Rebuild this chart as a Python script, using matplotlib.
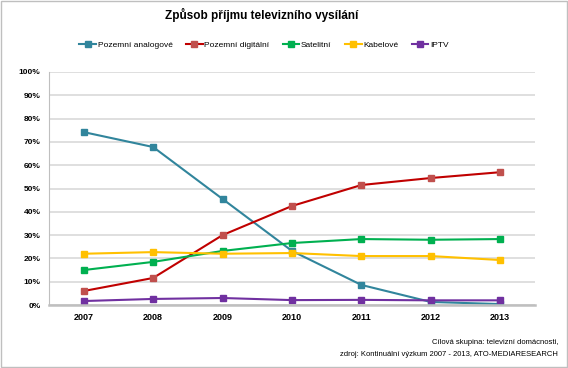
import matplotlib
matplotlib.use("Agg")
import matplotlib.pyplot as plt
import numpy as np

plt.rcParams['font.family'] = ['Liberation Sans', 'DejaVu Sans']

years = ["2007", "2008", "2009", "2010", "2011", "2012", "2013"]
analog = [74.2, 67.8, 45.5, 23.2, 8.6, 1.3, 0.4]
digital = [6.0, 11.6, 30.0, 42.5, 51.5, 54.5, 57.0]
satelit = [15.0, 18.5, 23.2, 26.6, 28.3, 28.0, 28.3]
kabel = [22.0, 22.7, 22.0, 22.3, 21.0, 21.0, 19.3]
iptv = [1.7, 2.6, 3.0, 2.1, 2.2, 2.0, 2.0]

series = [
    ("Pozemní analogové", analog, "#31859C", "#31859C"),
    ("Pozemní digitální", digital, "#C00000", "#C0504D"),
    ("Satelitní", satelit, "#00B050", "#00B050"),
    ("Kabelové", kabel, "#FFC000", "#FFC000"),
    ("IPTV", iptv, "#7030A0", "#7030A0"),
]

fig = plt.figure(figsize=(5.68, 3.68), dpi=100)
ax = fig.add_axes([49 / 568, 1 - 305 / 368, (535 - 49) / 568, (305 - 72) / 368])

x = np.arange(len(years))
for name, vals, c, mc in series:
    ax.plot(x, vals, color=c, lw=1.5, marker="s", markersize=4.5,
            markerfacecolor=mc, markeredgecolor=mc, label=name)

ax.set_xlim(-0.5, len(years) - 0.5)
ax.set_ylim(0, 100)
ax.set_yticks(np.arange(0, 101, 10))
ax.set_yticklabels([f"{v}%" for v in range(0, 101, 10)], fontsize=6, fontweight="bold")
ax.set_xticks(x)
ax.set_xticklabels(years, fontsize=6.5, fontweight="bold")
ax.tick_params(length=0, pad=6)
ax.grid(axis="y", color="#D9D9D9", lw=1.2)
ax.set_axisbelow(True)
for s in ["top", "right"]:
    ax.spines[s].set_visible(False)
ax.spines["left"].set_color("#BFBFBF")
ax.spines["bottom"].set_color("#BFBFBF")
ax.spines["bottom"].set_linewidth(1.8)

fig.text(262 / 568, 1 - 15 / 368, "Způsob příjmu televizního vysílání", ha="center", va="center",
         fontsize=8.5, fontweight="bold")
fig.legend(loc="center", bbox_to_anchor=(264 / 568, 1 - 45 / 368), ncol=5, frameon=False,
           fontsize=6, handlelength=2.0, handletextpad=0.2, columnspacing=1.6)

fig.text(558 / 568, 1 - 343 / 368, "Cílová skupina: televizní domácnosti,", ha="right",
         va="center", fontsize=5.5)
fig.text(558 / 568, 1 - 355 / 368, "zdroj: Kontinuální výzkum 2007 - 2013, ATO-MEDIARESEARCH",
         ha="right", va="center", fontsize=5.5)

fig.patches.append(plt.Rectangle((0.002, 0.003), 0.996, 0.994, transform=fig.transFigure,
                                 fill=False, edgecolor="#BFBFBF", lw=1))

fig.savefig("out.png", dpi=100)
